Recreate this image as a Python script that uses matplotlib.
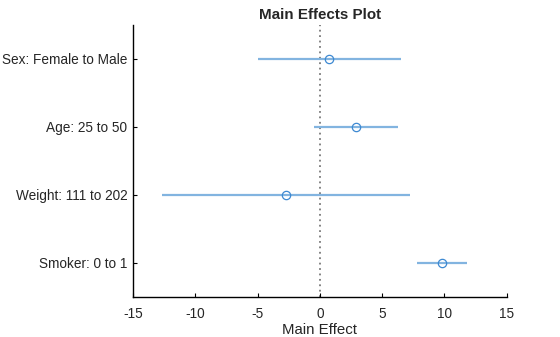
import numpy as np
import matplotlib.pyplot as plt

plt.rcParams['font.family'] = ['Liberation Sans', 'DejaVu Sans']
plt.rcParams['axes.unicode_minus'] = False

# Predictor names and their main effects with confidence bounds
terms = ['Sex: Female to Male', 'Age: 25 to 50', 'Weight: 111 to 202', 'Smoker: 0 to 1']
effect = [0.74, 2.9, -2.73, 9.83]
lower = [-4.98, -0.48, -12.64, 7.8]
upper = [6.56, 6.27, 7.28, 11.86]

fig = plt.figure(figsize=(5.6, 3.37), dpi=100)
ax = fig.add_axes([0.2375, 0.119, 0.667, 0.807])

y = np.arange(len(terms), 0, -1)

ax.axvline(0, color='#7a7a7a', linestyle=(0, (1, 2)), linewidth=1.3, zorder=1)
ax.hlines(y, lower, upper, color='#82b4e0', linewidth=1.6, zorder=2)
ax.plot(effect, y, 'o', markersize=6, markerfacecolor='none',
        markeredgecolor='#3d89d2', markeredgewidth=0.9, zorder=3)

ax.set_xlim(-15, 15)
ax.set_ylim(0.5, len(terms) + 0.5)
ax.set_xticks([-15, -10, -5, 0, 5, 10, 15])
ax.set_yticks(y)
ax.set_yticklabels(terms)
ax.tick_params(direction='in', length=3, width=0.8, labelsize=9.8,
               labelcolor='#262626')
ax.tick_params(axis='y', pad=4)
ax.tick_params(axis='x', pad=7)

for side in ['top', 'right']:
    ax.spines[side].set_visible(False)
for side in ['left', 'bottom']:
    ax.spines[side].set_linewidth(1.0)

ax.set_xlabel('Main Effect', fontsize=10.8, color='#262626', labelpad=2)
ax.set_title('Main Effects Plot', fontsize=10.9, fontweight='bold',
             color='#262626', pad=4)

fig.savefig('out.png', dpi=100)
